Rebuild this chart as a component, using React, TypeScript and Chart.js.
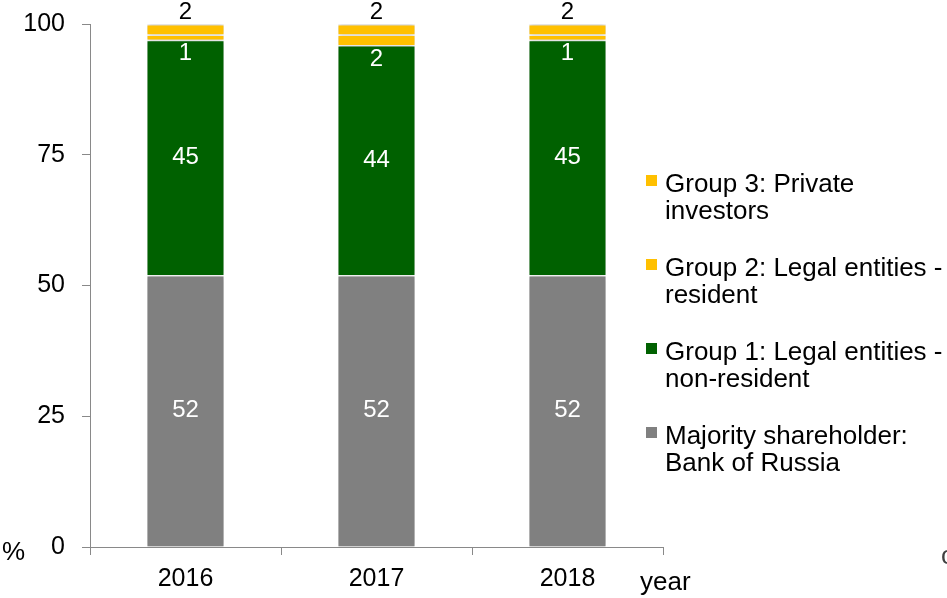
import React, { useEffect, useRef } from "react";
import { Chart, registerables } from "chart.js";

Chart.register(...registerables);

const years = ["2016", "2017", "2018"];
const bankOfRussia = [52, 52, 52];
const group1 = [45, 44, 45];
const group2 = [1, 2, 1];
const group3 = [2, 2, 2];
const yTicks = [0, 25, 50, 75, 100];

const seriesNames = [
  "Majority shareholder: Bank of Russia",
  "Group 1: Legal entities - non-resident",
  "Group 2: Legal entities - resident",
  "Group 3: Private investors",
];
const legendLines = [
  ["Group 3: Private", "investors"],
  ["Group 2: Legal entities -", "resident"],
  ["Group 1: Legal entities -", "non-resident"],
  ["Majority shareholder:", "Bank of Russia"],
];
const colors = ["#808080", "#006100", "#FFC000", "#FFC000"];
const legendColors = ["#FFC000", "#FFC000", "#006100", "#808080"];

const FONT = "Liberation Sans, Arial, sans-serif";

const overlayPlugin = {
  id: "overlay",
  beforeDatasetsDraw(chart: any) {
    const ctx = chart.ctx;
    ctx.save();
    ctx.shadowColor = "rgba(0,0,0,0.3)";
    ctx.shadowBlur = 5;
    ctx.shadowOffsetX = 0;
    ctx.shadowOffsetY = 0;
  },
  afterDatasetsDraw(chart: any) {
    const ctx = chart.ctx;
    ctx.restore();
    ctx.save();
    ctx.font = `24px ${FONT}`;
    ctx.textAlign = "center";
    ctx.textBaseline = "middle";
    chart.data.datasets.forEach((ds: any, di: number) => {
      const meta = chart.getDatasetMeta(di);
      meta.data.forEach((el: any, i: number) => {
        const v = ds.data[i];
        let y: number;
        if (di === 0 || di === 1) {
          ctx.fillStyle = "#ffffff";
          y = (el.y + el.base) / 2;
        } else if (di === 2) {
          ctx.fillStyle = "#ffffff";
          y = el.base + 14;
        } else {
          ctx.fillStyle = "#000000";
          y = el.y - 12;
        }
        ctx.fillText(String(v), el.x, y);
      });
    });
    ctx.restore();
  },
  afterDraw(chart: any) {
    const ctx = chart.ctx;
    ctx.save();
    ctx.font = `26px ${FONT}`;
    ctx.textBaseline = "alphabetic";
    ctx.textAlign = "left";
    ctx.fillStyle = "#000000";
    ctx.fillText("%", 2, 560);
    ctx.fillText("year", 640, 590);
    ctx.fillStyle = "#404040";
    ctx.fillText("c", 941, 564);
    // legend
    const startY = 192;
    const gap = 84;
    const lineH = 27;
    legendLines.forEach((lines, k) => {
      const y0 = startY + k * gap;
      ctx.fillStyle = legendColors[k];
      ctx.fillRect(646, y0 - 17, 11, 11);
      ctx.fillStyle = "#000000";
      lines.forEach((t, j) => ctx.fillText(t, 665, y0 + j * lineH));
    });
    ctx.restore();
  },
};

export default function App() {
  const ref = useRef<HTMLCanvasElement | null>(null);
  useEffect(() => {
    if (!ref.current) return;
    const data = [bankOfRussia, group1, group2, group3];
    const chart = new Chart(ref.current, {
      type: "bar",
      data: {
        labels: years,
        datasets: data.map((d, i) => ({
          label: seriesNames[i],
          data: d,
          backgroundColor: colors[i],
          borderColor: "#ffffff",
          borderWidth: { top: 1.5, bottom: 0, left: 0, right: 0 },
          borderSkipped: false,
          categoryPercentage: 1,
          barPercentage: 0.4,
        })),
      },
      options: {
        responsive: false,
        animation: false,
        devicePixelRatio: 1,
        layout: { padding: { left: 0, right: 284, top: 24, bottom: 0 } },
        plugins: { legend: { display: false }, tooltip: { enabled: false } },
        scales: {
          x: {
            stacked: true,
            grid: {
              display: true,
              drawOnChartArea: false,
              drawTicks: true,
              tickLength: 8,
              color: "#898989",
              offset: true,
            },
            border: { color: "#898989", width: 1 },
            ticks: { color: "#000", font: { family: FONT, size: 25 }, padding: 9 },
            afterFit: (s: any) => {
              s.height = 51;
              s.paddingLeft = 0;
              s.paddingRight = 0;
            },
          },
          y: {
            stacked: true,
            min: 0,
            max: 100,
            afterBuildTicks: (s: any) => {
              s.ticks = yTicks.map((v) => ({ value: v }));
            },
            grid: {
              display: true,
              drawOnChartArea: false,
              drawTicks: true,
              tickLength: 8,
              color: "#898989",
            },
            border: { color: "#898989", width: 1 },
            ticks: { color: "#000", font: { family: FONT, size: 25 }, padding: 17 },
            afterFit: (s: any) => {
              s.width = 90;
              s.paddingTop = 0;
              s.paddingBottom = 0;
            },
          },
        },
      },
      plugins: [overlayPlugin],
    });
    return () => chart.destroy();
  }, []);
  return (
    <div style={{ position: "absolute", left: 0, top: 0, width: 947, height: 598, background: "#fff" }}>
      <canvas ref={ref} width={947} height={598} />
    </div>
  );
}
